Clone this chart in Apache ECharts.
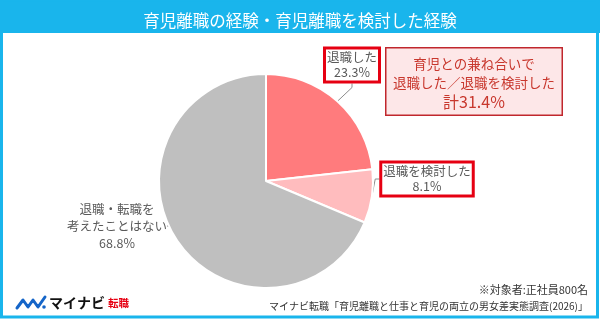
<!DOCTYPE html>
<html>
<head>
<meta charset="utf-8">
<script src="https://cdn.jsdelivr.net/npm/echarts@6/dist/echarts.min.js"></script>
<style>
  html, body { margin: 0; padding: 0; background: #fff; }
  #chart { width: 600px; height: 322px; }
</style>
</head>
<body>
<div id="chart"></div>
<script>
  // データ
  const categories = ["退職した", "退職を検討した", "退職・転職を\n考えたことはない"];
  const values = [23.3, 8.1, 68.8];
  const sliceColors = ["#ff7b7d", "#ffbcbe", "#bfbfbf"];
  const titleText = "育児離職の経験・育児離職を検討した経験";
  const noteLines = ["※対象者:正社員800名", "マイナビ転職「育児離職と仕事と育児の両立の男女差実態調査(2026)」"];

  const FONT = '"Noto Sans CJK JP", "Noto Sans", sans-serif';
  const BLUE = "#19b5ec";
  const RED_TXT = "#c8372d";
  const total = (values[0] + values[1]).toFixed(1);

  // ラベルの置き場所（中心座標）
  const labelPos = [[352, 65], [427, 179], [117, 226]];

  const boxLabel = {
    backgroundColor: "#fff",
    borderColor: "#e60012",
    borderWidth: 3,
    padding: [1, 1, 0, 1]
  };

  const chart = echarts.init(document.getElementById("chart"));
  chart.setOption({
    animation: false,
    title: {
      text: titleText,
      left: "center",
      top: 7,
      textStyle: { color: "#fff", fontSize: 16.5, fontWeight: "normal", fontFamily: FONT }
    },
    graphic: [
      { type: "rect", z: -1, shape: { x: 0, y: 0, width: 600, height: 33 }, style: { fill: BLUE } },
      { type: "rect", z: 100, shape: { x: 1.5, y: 0, width: 596, height: 317 }, style: { fill: "none", stroke: BLUE, lineWidth: 3 } },
      // 大きい囲み
      {
        type: "text", left: 385, top: 47, z: 50,
        style: {
          text: "{a|育児との兼ね合いで}\n{a|退職した／退職を検討した}\n{b|計" + total + "%}",
          rich: {
            a: { fontSize: 13.5, lineHeight: 19, fill: RED_TXT, fontFamily: FONT, align: "center" },
            b: { fontSize: 16, lineHeight: 19, fill: RED_TXT, fontFamily: FONT, align: "center" }
          },
          backgroundColor: "#fde7e8",
          borderColor: "#c0272d",
          borderWidth: 1.5,
          padding: [6, 6, 3, 6],
          width: 163
        }
      },
      // ロゴ
      {
        type: "polyline", shape: { points: [[17, 308], [23, 300], [28, 307], [33, 300], [38, 307], [45, 297]] },
        style: { stroke: "#1565c8", lineWidth: 3, fill: "none", lineJoin: "round", lineCap: "round" }
      },
      { type: "circle", shape: { cx: 44, cy: 307, r: 1.8 }, style: { fill: "#1565c8" } },
      { type: "text", left: 49, top: 296, style: { text: "マイナビ", fontSize: 14, fontWeight: "bold", fill: "#111", fontFamily: FONT } },
      { type: "text", left: 108, top: 298, style: { text: "転職", fontSize: 10.5, fontWeight: "bold", fill: "#e60012", fontFamily: FONT } },
      // 注記
      { type: "text", right: 12, top: 284, style: { text: noteLines[0], fontSize: 11, fill: "#333", fontFamily: FONT } },
      { type: "text", right: 12, top: 301, style: { text: noteLines[1], fontSize: 10, fill: "#333", fontFamily: FONT } }
    ],
    series: [{
      type: "pie",
      center: [266, 181],
      radius: 107,
      startAngle: 90,
      clockwise: true,
      itemStyle: { borderColor: "#fff", borderWidth: 2 },
      label: {
        formatter: "{b}\n{c}%",
        color: "#595959",
        fontSize: 12.5,
        lineHeight: 15,
        fontFamily: FONT,
        align: "center"
      },
      labelLine: { length: 6, length2: 4, lineStyle: { color: "#8c8c8c", width: 1 } },
      labelLayout: function (p) {
        const pos = labelPos[p.dataIndex];
        return { x: pos[0], y: pos[1], align: "center", verticalAlign: "middle" };
      },
      data: categories.map((name, i) => ({
        name: name,
        value: values[i],
        itemStyle: { color: sliceColors[i] },
        label: i < 2 ? boxLabel : { lineHeight: 17 }
      }))
    }]
  });
</script>
</body>
</html>
